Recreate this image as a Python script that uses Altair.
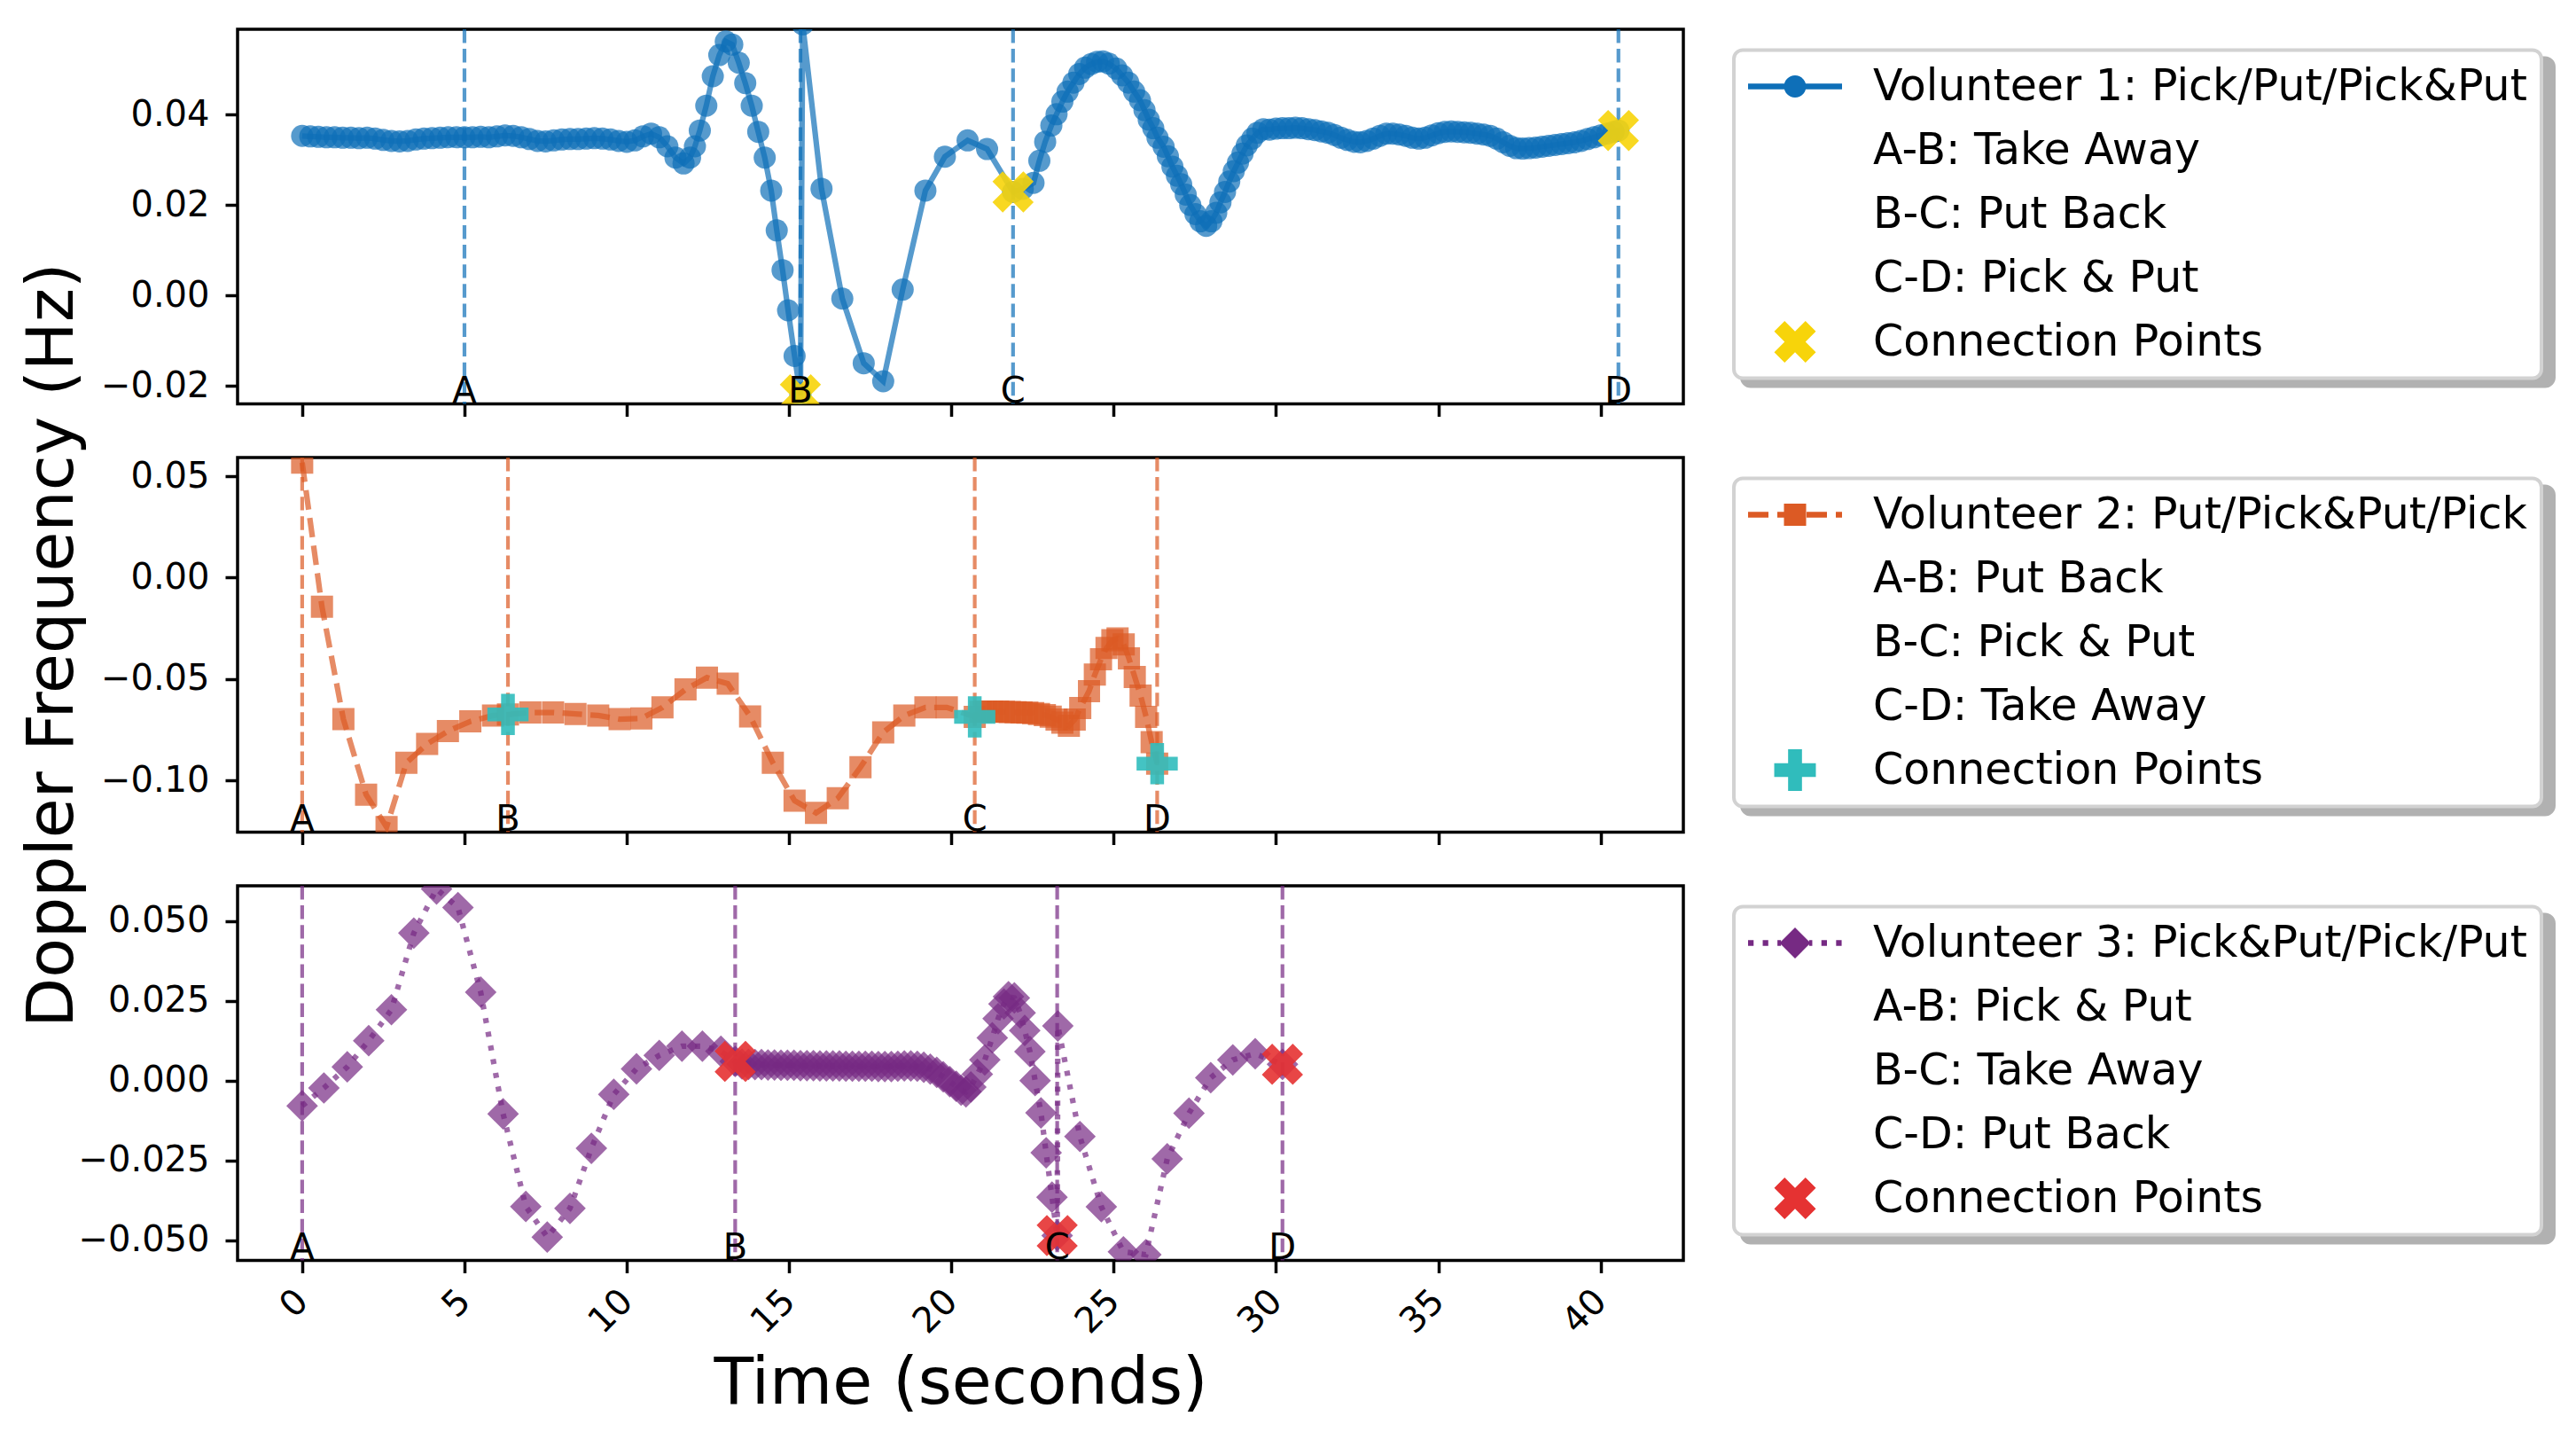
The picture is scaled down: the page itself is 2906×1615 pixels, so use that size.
import altair as alt
import pandas as pd

BLUE = "#0E6FB8"
ORANGE = "#DC5A24"
PURPLE = "#762A83"
YELLOW = "#F7D40A"
TEAL = "#30BCBC"
RED = "#E53232"
INK = "#000000"
SHADE = "#B1B1B1"
FONT = "DejaVu Sans"

PANEL_W = 1631
PANEL_H = 422.5
X_DOMAIN = [-1.99, 42.55]

x_ticks = [0, 5, 10, 15, 20, 25, 30, 35, 40]
segment_letters = ["A", "B", "C", "D"]

# ── Volunteer 1 ──────────────────────────────────────────────────────
v1_time = [
    0.0, 0.25, 0.5, 0.75, 1.0, 1.25, 1.5, 1.75, 2.0, 2.25, 2.5, 2.75, 3.0, 3.25, 3.5, 3.75, 4.0, 4.25, 4.5, 4.75,
    5.0, 5.25, 5.5, 5.75, 6.0, 6.25, 6.5, 6.75, 7.0, 7.25, 7.5, 7.75, 8.0, 8.25, 8.5, 8.75, 9.0, 9.25, 9.5, 9.75,
    10.0, 10.25, 10.5, 10.75, 11.0, 11.25, 11.5, 11.75, 11.95, 12.1, 12.25, 12.45, 12.65, 12.85, 13.05, 13.25, 13.45, 13.65, 13.85, 14.05,
    14.25, 14.45, 14.62, 14.8, 14.97, 15.17, 15.35, 15.42, 16.0, 16.64, 17.3, 17.9, 18.5, 19.2, 19.8, 20.5, 21.1, 21.9, 22.2, 22.53,
    22.71, 22.89, 23.08, 23.24, 23.42, 23.58, 23.76, 23.94, 24.12, 24.31, 24.49, 24.67, 24.85, 25.08, 25.26, 25.45, 25.63, 25.81, 25.95, 26.08,
    26.22, 26.35, 26.54, 26.67, 26.81, 26.95, 27.08, 27.22, 27.36, 27.52, 27.67, 27.85, 28.01, 28.16, 28.29, 28.43, 28.56, 28.7, 28.83, 28.97,
    29.1, 29.27, 29.43, 29.61, 29.8, 30.0, 30.2, 30.4, 30.6, 30.8, 31.0, 31.2, 31.4, 31.6, 31.8, 32.0, 32.2, 32.4, 32.6, 32.8,
    33.0, 33.2, 33.4, 33.6, 33.8, 34.0, 34.2, 34.4, 34.6, 34.8, 35.0, 35.2, 35.4, 35.6, 35.8, 36.0, 36.2, 36.4, 36.6, 36.8,
    37.0, 37.2, 37.4, 37.6, 37.8, 38.0, 38.2, 38.4, 38.6, 38.8, 39.0, 39.2, 39.4, 39.6, 39.8, 40.0, 40.2, 40.4, 40.55,
]
v1_freq = [
    0.0353, 0.0352, 0.0351, 0.0350, 0.0350, 0.0349, 0.0349, 0.0348, 0.0349, 0.0347, 0.0344, 0.0342, 0.0341, 0.0342, 0.0345, 0.0347, 0.0348, 0.0349, 0.0350, 0.0350,
    0.0350, 0.0350, 0.0351, 0.0350, 0.0352, 0.0354, 0.0353, 0.0350, 0.0346, 0.0342, 0.0341, 0.0343, 0.0345, 0.0346, 0.0346, 0.0347, 0.0348, 0.0347, 0.0345, 0.0342,
    0.0340, 0.0343, 0.0352, 0.0358, 0.0350, 0.0330, 0.0305, 0.0292, 0.0305, 0.0330, 0.0365, 0.0420, 0.0485, 0.0532, 0.0562, 0.0555, 0.0515, 0.0470, 0.0420, 0.0362,
    0.0305, 0.0232, 0.0144, 0.0056, -0.0033, -0.0134, -0.0220, 0.0600, 0.0236, -0.0007, -0.0150, -0.0190, 0.0013, 0.0232, 0.0307, 0.0343, 0.0324, 0.0229, 0.0236, 0.0249,
    0.0298, 0.0340, 0.0376, 0.0401, 0.0429, 0.0451, 0.0471, 0.0490, 0.0504, 0.0512, 0.0517, 0.0518, 0.0513, 0.0502, 0.0487, 0.0471, 0.0451, 0.0432, 0.0410, 0.0389,
    0.0370, 0.0349, 0.0329, 0.0308, 0.0285, 0.0265, 0.0246, 0.0223, 0.0200, 0.0180, 0.0164, 0.0154, 0.0164, 0.0183, 0.0206, 0.0229, 0.0252, 0.0275, 0.0294, 0.0314,
    0.0332, 0.0347, 0.0360, 0.0368, 0.0367, 0.0369, 0.0370, 0.0370, 0.0371, 0.0370, 0.0368, 0.0366, 0.0363, 0.0360, 0.0355, 0.0349, 0.0344, 0.0340, 0.0339, 0.0342,
    0.0347, 0.0353, 0.0358, 0.0358, 0.0356, 0.0353, 0.0349, 0.0347, 0.0349, 0.0354, 0.0359, 0.0362, 0.0363, 0.0362, 0.0361, 0.0360, 0.0358, 0.0356, 0.0353, 0.0347,
    0.0339, 0.0331, 0.0326, 0.0325, 0.0326, 0.0327, 0.0329, 0.0331, 0.0333, 0.0335, 0.0337, 0.0339, 0.0342, 0.0346, 0.0350, 0.0354, 0.0358, 0.0362, 0.0365,
]
v1_marks = [5.0, 15.35, 21.9, 40.55]
v1_conn_time = [15.35, 21.9, 40.55]
v1_conn_freq = [-0.0220, 0.0229, 0.0365]
v1_entries = ["Volunteer 1: Pick/Put/Pick&Put", "A-B: Take Away", "B-C: Put Back",
              "C-D: Pick & Put", "Connection Points"]

# ── Volunteer 2 ──────────────────────────────────────────────────────
v2_time = [
    0.0, 0.61, 1.27, 1.97, 2.6, 3.21, 3.85, 4.49, 5.18, 5.88,
    6.34, 7.03, 7.73, 8.42, 9.12, 9.78, 10.45, 11.1, 11.81, 12.47,
    13.11, 13.8, 14.5, 15.17, 15.83, 16.5, 17.2, 17.9, 18.55, 19.2,
    19.86, 20.72, 20.9, 21.08, 21.26, 21.44, 21.62, 21.8, 21.98, 22.16,
    22.34, 22.52, 22.7, 22.88, 23.06, 23.24, 23.42, 23.62, 23.8, 23.97,
    24.24, 24.42, 24.61, 24.78, 24.96, 25.12, 25.31, 25.47, 25.65, 25.83,
    26.0, 26.17, 26.34,
]
v2_freq = [
    0.0567, -0.0144, -0.0698, -0.1070, -0.1230, -0.0913, -0.0820, -0.0757, -0.0709, -0.0680,
    -0.0675, -0.0665, -0.0665, -0.0672, -0.0680, -0.0698, -0.0694, -0.0640, -0.0551, -0.0493,
    -0.0523, -0.0684, -0.0913, -0.1100, -0.1160, -0.1088, -0.0935, -0.0763, -0.0680, -0.0640,
    -0.0640, -0.0687, -0.0662, -0.0660, -0.0660, -0.0661, -0.0662, -0.0663, -0.0664, -0.0665,
    -0.0666, -0.0668, -0.0672, -0.0678, -0.0686, -0.0700, -0.0715, -0.0730, -0.0700, -0.0643,
    -0.0560, -0.0478, -0.0402, -0.0347, -0.0309, -0.0300, -0.0329, -0.0398, -0.0490, -0.0582,
    -0.0687, -0.0811, -0.0917,
]
v2_marks = [0.0, 6.34, 20.72, 26.34]
v2_conn_time = [6.34, 20.72, 26.34]
v2_conn_freq = [-0.0675, -0.0687, -0.0917]
v2_entries = ["Volunteer 2: Put/Pick&Put/Pick", "A-B: Put Back", "B-C: Pick & Put",
              "C-D: Take Away", "Connection Points"]

# ── Volunteer 3 ──────────────────────────────────────────────────────
v3_time = [
    0.0, 0.67, 1.39, 2.05, 2.75, 3.44, 4.14, 4.8, 5.5, 6.19,
    6.89, 7.55, 8.25, 8.91, 9.6, 10.3, 11.0, 11.7, 12.33, 12.9, 13.34,
    13.55, 13.75, 13.95, 14.15, 14.35, 14.55, 14.75, 14.95, 15.15, 15.35,
    15.55, 15.75, 15.95, 16.15, 16.35, 16.55, 16.75, 16.95, 17.15, 17.35,
    17.55, 17.75, 17.95, 18.15, 18.35, 18.55, 18.75, 18.95, 19.15, 19.35,
    19.55, 19.75, 19.95, 20.15,
    20.3, 20.45, 20.6, 20.8,
    21.03, 21.26, 21.44, 21.62, 21.76, 21.94, 22.12, 22.26, 22.42, 22.58, 22.76, 22.92, 23.1, 23.26,
    23.28, 23.96, 24.62, 25.3, 25.99, 26.65, 27.32, 27.99, 28.67, 29.36, 30.2,
]
v3_freq = [
    -0.0079, -0.0023, 0.0043, 0.0125, 0.0222, 0.0462, 0.0600, 0.0542, 0.0277, -0.0104,
    -0.0394, -0.0490, -0.0400, -0.0212, -0.0043, 0.0037, 0.0079, 0.0108, 0.0108, 0.0092, 0.0060,
    0.0052, 0.0051, 0.0050, 0.0050, 0.0049, 0.0049, 0.0048, 0.0048, 0.0048, 0.0047,
    0.0047, 0.0047, 0.0046, 0.0046, 0.0046, 0.0046, 0.0045, 0.0045, 0.0045, 0.0045,
    0.0045, 0.0044, 0.0044, 0.0044, 0.0045, 0.0046, 0.0046, 0.0045, 0.0042, 0.0036,
    0.0026, 0.0012, -0.0003, -0.0018,
    -0.0030, -0.0035, -0.0020, 0.0020,
    0.0065, 0.0134, 0.0194, 0.0240, 0.0263, 0.0259, 0.0212, 0.0157, 0.0091, 0.0000, -0.0101, -0.0226, -0.0365, -0.0485,
    0.0171, -0.0175, -0.0395, -0.0536, -0.0545, -0.0245, -0.0102, 0.0009, 0.0065, 0.0084, 0.0051,
]
v3_marks = [0.0, 13.34, 23.26, 30.2]
v3_conn_time = [13.34, 23.26, 30.2]
v3_conn_freq = [0.0060, -0.0485, 0.0051]
v3_entries = ["Volunteer 3: Pick&Put/Pick/Put", "A-B: Pick & Put", "B-C: Take Away",
              "C-D: Put Back", "Connection Points"]


# ── marker shapes (SVG paths in the [-1, 1] box) ─────────────────────
X_VERTS = [(-1, -2), (0, -1), (1, -2), (2, -1), (1, 0), (2, 1),
           (1, 2), (0, 1), (-1, 2), (-2, 1), (-1, 0), (-2, -1)]
P_VERTS = [(-1, -3), (-1, -1), (-3, -1), (-3, 1), (-1, 1), (-1, 3),
           (1, 3), (1, 1), (3, 1), (3, -1), (1, -1), (1, -3)]


def poly(verts, k):
    return "M" + "L".join(f"{x * k:.4f},{y * k:.4f}" for x, y in verts) + "Z"


def bars(spans, h=0.0613):
    return "".join(f"M{a},{-h}H{b}V{h}H{a}Z" for a, b in spans)


X_MARK = poly(X_VERTS, 0.5)
P_MARK = poly(P_VERTS, 1 / 3)
X_KEY = poly(X_VERTS, 0.2217)
P_KEY = poly(P_VERTS, 0.1477)

SOLID_KEY = bars([(-1, -0.2), (0.2, 1)]) + \
    "M0.236,0A0.236,0.236 0 1,1 -0.236,0A0.236,0.236 0 1,1 0.236,0Z"
DASH_KEY = bars([(-1, -0.566), (-0.377, -0.236), (0.245, 0.679), (0.868, 1.0)]) + \
    "M-0.236,-0.236H0.236V0.236H-0.236Z"
DOT_KEY = bars([(-1, -0.882), (-0.688, -0.570), (-0.375, -0.30), (0.30, 0.367),
                (0.561, 0.679), (0.874, 0.992)], h=0.059) + "M0,-0.33L0.33,0L0,0.33L-0.33,0Z"

LEGEND_X, LEGEND_Y = 1688, 23.5
LABEL_OFFSET = 35
LABEL_WIDTH = 743   # widest legend label at 49px DejaVu Sans
LEGEND_BOX = dict(
    title=None, orient="none", padding=16, cornerRadius=10,
    symbolSize=11236, symbolStrokeWidth=0, clipHeight=50, rowPadding=22,
    labelFontSize=49, labelFont=FONT, labelLimit=2000,
)


def panel(times, freqs, marks, conn_t, conn_f, entries, color, conn_color, conn_shape,
          key_shape, key_conn, point_shape, point_size, dash, y_domain, y_ticks, y_fmt,
          y_title=None, bottom=False):
    series = pd.DataFrame({"t": times, "f": freqs})
    conns = pd.DataFrame({"t": conn_t, "f": conn_f})
    guides = pd.DataFrame({"t": marks, "letter": segment_letters})
    key = pd.DataFrame({"entry": entries, "shade": entries})

    if bottom:
        x_axis = alt.Axis(values=x_ticks, format="d", labelAngle=315, labelAlign="right",
                          labelBaseline="middle", labelOffset=0, labelPadding=25.6,
                          title="Time (seconds)", titleFontSize=73, titleY=161,
                          titleBaseline="alphabetic")
    else:
        x_axis = alt.Axis(values=x_ticks, labels=False, title=None)

    if y_title:
        y_axis = alt.Axis(values=y_ticks, format=y_fmt, title=y_title, titleFontSize=73,
                          titleX=-187, titleBaseline="alphabetic")
    else:
        y_axis = alt.Axis(values=y_ticks, format=y_fmt, title=None)

    x = alt.X("t:Q", scale=alt.Scale(domain=X_DOMAIN, nice=False, zero=False), axis=x_axis)
    y = alt.Y("f:Q", scale=alt.Scale(domain=y_domain, nice=False, zero=False), axis=y_axis)

    line_style = {"strokeDash": dash} if dash else {}
    line = alt.Chart(series).mark_line(
        color=color, strokeWidth=6.25, opacity=0.7, clip=True, **line_style
    ).encode(x=x, y=y)

    dots = alt.Chart(series).mark_point(
        shape=point_shape, size=point_size, filled=True, color=color,
        opacity=0.7, strokeWidth=0, clip=True
    ).encode(x=x, y=y)

    rules = alt.Chart(guides).mark_rule(
        color=color, opacity=0.7, strokeWidth=4.2, strokeDash=[15.4, 6.7]
    ).encode(x=x)

    joins = alt.Chart(conns).mark_point(
        shape=conn_shape, size=2160, filled=True, color=conn_color,
        opacity=0.9, strokeWidth=0, clip=True
    ).encode(x=x, y=y)

    letters = alt.Chart(guides).mark_text(
        fontSize=40, color=INK, align="center", baseline="alphabetic"
    ).encode(x=x, y=alt.value(PANEL_H - 1.5), text="letter:N")

    # drop shadow behind the legend box: same rows, blank labels, widened by the offset
    shadow = alt.Legend(
        legendX=LEGEND_X + 9, legendY=LEGEND_Y + 9, strokeColor=SHADE, fillColor=SHADE,
        symbolOpacity=0, labelExpr="''", labelOffset=LABEL_OFFSET + LABEL_WIDTH,
        zindex=0, **LEGEND_BOX,
    )
    shade = alt.Chart(key).mark_point(filled=True, size=0, strokeWidth=0, opacity=1).encode(
        color=alt.Color("shade:N", legend=shadow),
    )

    clear = "transparent"
    legend = alt.Legend(
        legendX=LEGEND_X, legendY=LEGEND_Y, strokeColor="#D2D2D2", fillColor="#FFFFFF",
        symbolOpacity=1, labelColor=INK, labelOffset=LABEL_OFFSET, zindex=1, **LEGEND_BOX,
    )
    keys = alt.Chart(key).mark_point(filled=True, size=0, strokeWidth=0, opacity=1).encode(
        fill=alt.Fill("entry:N", legend=legend,
                      scale=alt.Scale(domain=entries,
                                      range=[color, clear, clear, clear, conn_color])),
        shape=alt.Shape("entry:N", legend=legend,
                        scale=alt.Scale(domain=entries,
                                        range=[key_shape, "circle", "circle", "circle", key_conn])),
    )

    return (line + dots + rules + joins + letters + shade + keys).properties(
        width=PANEL_W, height=PANEL_H
    )


top = panel(v1_time, v1_freq, v1_marks, v1_conn_time, v1_conn_freq, v1_entries,
            BLUE, YELLOW, X_MARK, SOLID_KEY, X_KEY, "circle", 625, None,
            [-0.0240, 0.0589], [-0.02, 0.0, 0.02, 0.04], ".2f")

middle = panel(v2_time, v2_freq, v2_marks, v2_conn_time, v2_conn_freq, v2_entries,
               ORANGE, TEAL, P_MARK, DASH_KEY, P_KEY, "square", 625, [22, 9.5],
               [-0.1255, 0.0592], [-0.10, -0.05, 0.0, 0.05], ".2f",
               y_title="Doppler Frequency (Hz)")

bottom = panel(v3_time, v3_freq, v3_marks, v3_conn_time, v3_conn_freq, v3_entries,
               PURPLE, RED, X_MARK, DOT_KEY, X_KEY, "diamond", 1275, [5.7, 10],
               [-0.0563, 0.0610], [-0.050, -0.025, 0.0, 0.025, 0.050], ".3f",
               bottom=True)

chart = (
    alt.vconcat(top, middle, bottom, spacing=60, bounds="flush")
    .resolve_scale(color="independent", fill="independent", shape="independent")
    .properties(padding={"left": 13, "top": 21, "right": 10, "bottom": 5})
    .configure(background="#FFFFFF", font=FONT)
    .configure_view(stroke=INK, strokeWidth=3.5)
    .configure_axis(
        labelFont=FONT, labelFontSize=40, labelColor=INK,
        titleFont=FONT, titleColor=INK, titleFontWeight="normal",
        tickColor=INK, tickWidth=3.5, tickSize=14,
        domain=False, grid=False,
    )
    .configure_axisY(labelPadding=18)
    .configure_legend(strokeWidth=4)
)

chart.save("out.html", embed_options={"renderer": "svg", "actions": False})
